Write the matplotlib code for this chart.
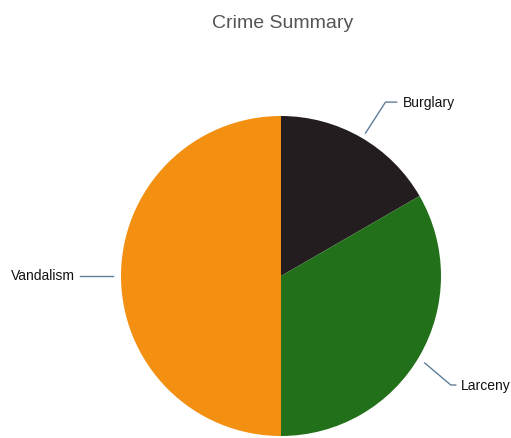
import numpy as np
import matplotlib
matplotlib.use("Agg")
import matplotlib.pyplot as plt

categories = ["Burglary", "Larceny", "Vandalism"]
values = [10, 20, 30]
colors = ["#241D20", "#22701A", "#F39012"]

W, H = 511, 439
fig = plt.figure(figsize=(W / 100, H / 100), dpi=100)
ax = fig.add_axes([0, 0, 1, 1])

cx, cy, r = 281, H - 277, 160
wedges, _ = ax.pie(values, colors=colors, startangle=90, counterclock=False,
                   center=(cx, cy), radius=r, frame=True,
                   wedgeprops=dict(linewidth=0))
ax.set_xlim(0, W)
ax.set_ylim(0, H)
ax.set_aspect("equal")
ax.axis("off")

fig.text(283 / W, 1 - 23 / H, "Crime Summary", ha="center", va="center",
         fontsize=14, color="#555555", family="Liberation Sans")

lc = "#5F7E98"
fs = 10
for w, lab in zip(wedges, categories):
    ang = np.deg2rad((w.theta1 + w.theta2) / 2)
    if lab == "Burglary":
        x0 = cx + (r + 5) * np.cos(ang) + 2
        y0 = cy + (r + 5) * np.sin(ang)
        x1, y1 = x0 + 20, y0 + 31
        x2 = x1 + 11
        ax.plot([x0, x1, x2], [y0, y1, y1], color=lc, lw=1)
        ax.text(x2 + 6, y1, lab, ha="left", va="center", fontsize=fs,
                family="Liberation Sans", color="#111111")
    elif lab == "Larceny":
        x0 = cx + (r + 6) * np.cos(ang)
        y0 = cy + (r + 6) * np.sin(ang) - 4
        x1, y1 = x0 + 26, y0 - 22
        x2 = x1 + 5
        ax.plot([x0, x1, x2], [y0, y1, y1], color=lc, lw=1)
        ax.text(x2 + 5, y1, lab, ha="left", va="center", fontsize=fs,
                family="Liberation Sans", color="#111111")
    else:
        x0 = cx + (r + 8) * np.cos(ang)
        y0 = cy + (r + 8) * np.sin(ang)
        x1 = x0 - 33
        ax.plot([x0, x1], [y0, y0], color=lc, lw=1)
        ax.text(x1 - 5, y0 + 1, lab, ha="right", va="center", fontsize=fs,
                family="Liberation Sans", color="#111111")

fig.savefig("out.png", dpi=100, facecolor="white")
